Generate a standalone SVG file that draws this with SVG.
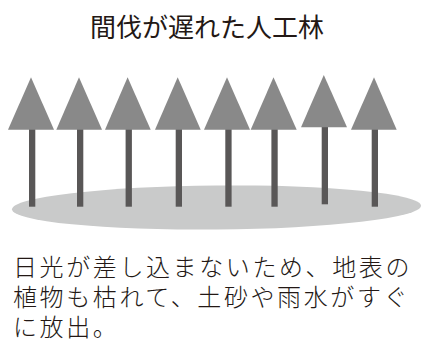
<svg xmlns="http://www.w3.org/2000/svg" width="422" height="352" viewBox="0 0 422 352">
  <style>
    .txt { font-family: "Noto Sans CJK JP", "Noto Sans", sans-serif; fill: #231815; }
    .title { font-size: 26px; font-weight: 400; }
    .body { font-size: 24px; font-weight: 300; letter-spacing: 2.6px; }
    .crown { fill: #898989; }
    .trunk { fill: #595757; }
    .ground { fill: #c9caca; }
  </style>
  <rect width="422" height="352" fill="#ffffff"/>

  <text id="title" class="txt title" x="207" y="36.5" text-anchor="middle">間伐が遅れた人工林</text>

  <!-- forest floor -->
  <g id="ground">
    <ellipse class="ground" cx="216.5" cy="207.5" rx="204.5" ry="22" transform="rotate(-0.5 216.5 207.5)"/>
  </g>

  <!-- trees: trunk drawn first, crown on top -->
  <g id="tree1">
    <rect class="trunk" x="29" y="128" width="6.3" height="78.7"/>
    <polygon class="crown" points="31,77.3 8,129.7 54,129.7"/>
  </g>
  <g id="tree2">
    <rect class="trunk" x="77" y="128" width="6.3" height="78.7"/>
    <polygon class="crown" points="79,77.3 56.3,129.7 102,129.7"/>
  </g>
  <g id="tree3">
    <rect class="trunk" x="125.6" y="128" width="6.3" height="78.7"/>
    <polygon class="crown" points="127.6,77.3 105,129.7 150.7,129.7"/>
  </g>
  <g id="tree4">
    <rect class="trunk" x="175.7" y="128" width="6.3" height="78.7"/>
    <polygon class="crown" points="177.7,77.3 155,129.7 200.7,129.7"/>
  </g>
  <g id="tree5">
    <rect class="trunk" x="225.3" y="128" width="6.3" height="78.7"/>
    <polygon class="crown" points="227,77.3 204,129.7 250,129.7"/>
  </g>
  <g id="tree6">
    <rect class="trunk" x="271.4" y="128" width="6.3" height="78.7"/>
    <polygon class="crown" points="273.5,77.3 250.7,129.7 296.7,129.7"/>
  </g>
  <g id="tree7">
    <rect class="trunk" x="321.7" y="125.5" width="6.3" height="78.8"/>
    <polygon class="crown" points="323.8,75 301,127.3 347,127.3"/>
  </g>
  <g id="tree8">
    <rect class="trunk" x="371.7" y="128" width="6.3" height="78.7"/>
    <polygon class="crown" points="374,77.3 351,129.7 396.7,129.7"/>
  </g>

  <g id="caption" class="txt body">
    <text x="13" y="276">日光が差し込まないため、地表の</text>
    <text x="13" y="306">植物も枯れて、土砂や雨水がすぐ</text>
    <text x="13" y="336">に放出。</text>
  </g>
</svg>
